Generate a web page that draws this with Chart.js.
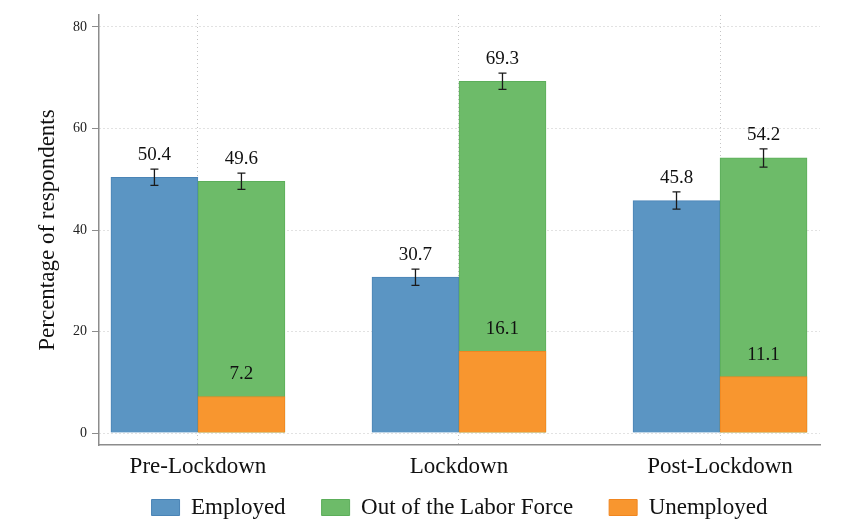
<!DOCTYPE html>
<html>
<head>
<meta charset="utf-8">
<script src="https://cdn.jsdelivr.net/npm/chart.js@4.4.1/dist/chart.umd.min.js"></script>
<style>
  html, body { margin: 0; padding: 0; background: #ffffff; }
  #wrap { width: 865px; height: 528px; }
</style>
</head>
<body>
<div id="wrap"><canvas id="chart" width="865" height="528"></canvas></div>
<script>
// Labour-force status of respondents across the three periods (%)
const periods = ['Pre-Lockdown', 'Lockdown', 'Post-Lockdown'];
const employed = [50.4, 30.7, 45.8];
const employedErr = [1.6, 1.6, 1.7];
const outOfLaborForce = [49.6, 69.3, 54.2];
const outOfLaborForceErr = [1.6, 1.6, 1.8];
const unemployed = [7.2, 16.1, 11.1];
const yTicks = [0, 20, 40, 60, 80];

const serif = '"Liberation Serif", "Times New Roman", serif';
const GROUP_SHIFT = 1 / 6;   // half of one bar's width in category units
const LEGEND_LIFT = 25;      // legend sits closer to the axis labels than the layout gives

function points(values, shift) {
  return values.map((v, i) => ({ x: i + shift, y: v }));
}

// Error bars (I-shaped) and value labels
const annotate = {
  id: 'annotate',
  afterLayout(chart) {
    if (chart.legend) {
      chart.legend.top -= LEGEND_LIFT;
    }
  },
  afterDatasetsDraw(chart) {
    const { ctx, scales: { x, y } } = chart;
    ctx.save();
    const groups = [
      { vals: employed, err: employedErr, shift: -GROUP_SHIFT },
      { vals: outOfLaborForce, err: outOfLaborForceErr, shift: GROUP_SHIFT }
    ];
    ctx.strokeStyle = '#1a1a1a';
    ctx.lineWidth = 1.3;
    ctx.fillStyle = '#111';
    ctx.font = '19px ' + serif;
    ctx.textAlign = 'center';
    ctx.textBaseline = 'middle';
    groups.forEach(g => {
      g.vals.forEach((v, i) => {
        const px = x.getPixelForValue(i + g.shift);
        const hi = y.getPixelForValue(v + g.err[i]);
        const lo = y.getPixelForValue(v - g.err[i]);
        ctx.beginPath();
        ctx.moveTo(px, hi); ctx.lineTo(px, lo);
        ctx.moveTo(px - 4, hi); ctx.lineTo(px + 4, hi);
        ctx.moveTo(px - 4, lo); ctx.lineTo(px + 4, lo);
        ctx.stroke();
        ctx.fillText(v.toFixed(1), px, hi - 14);
      });
    });
    unemployed.forEach((v, i) => {
      const px = x.getPixelForValue(i + GROUP_SHIFT);
      ctx.fillText(v.toFixed(1), px, y.getPixelForValue(v) - 22);
    });
    ctx.restore();
  }
};

new Chart(document.getElementById('chart'), {
  type: 'bar',
  data: {
    datasets: [
      {
        label: 'Employed',
        data: points(employed, -GROUP_SHIFT),
        backgroundColor: '#5b95c3',
        borderColor: '#4a84b6',
        borderWidth: 1,
        order: 3
      },
      {
        label: 'Out of the Labor Force',
        data: points(outOfLaborForce, GROUP_SHIFT),
        backgroundColor: '#6dbb69',
        borderColor: '#5cae5a',
        borderWidth: 1,
        order: 2
      },
      {
        label: 'Unemployed',
        data: points(unemployed, GROUP_SHIFT),
        backgroundColor: '#f8962f',
        borderColor: '#f08620',
        borderWidth: 1,
        order: 1
      }
    ]
  },
  options: {
    responsive: false,
    animation: false,
    devicePixelRatio: 1,
    grouped: false,
    barThickness: 87,
    layout: { padding: { top: 15, right: 45, bottom: 0, left: 0 } },
    scales: {
      x: {
        type: 'linear',
        offset: false,
        min: -0.379,
        max: 2.383,
        afterBuildTicks(scale) { scale.ticks = periods.map((_, i) => ({ value: i })); },
        afterFit(scale) { scale.height = 40; },
        ticks: {
          callback: v => periods[v],
          font: { family: serif, size: 23 },
          color: '#111',
          padding: 8,
          maxRotation: 0,
          autoSkip: false
        },
        grid: {
          color: '#c4c4c4',
          offset: false,
          drawTicks: false,
          lineWidth: 1
        },
        border: { display: true, color: '#8c8c8c', width: 1.5, dash: [1, 3] }
      },
      y: {
        min: -2.36,
        max: 82.36,
        afterBuildTicks(scale) { scale.ticks = yTicks.map(v => ({ value: v })); },
        afterFit(scale) { scale.width = 99; },
        ticks: {
          font: { family: serif, size: 14 },
          color: '#222',
          padding: 5
        },
        grid: {
          color: '#c4c4c4',
          drawTicks: true,
          tickLength: 7,
          tickColor: '#8c8c8c',
          tickBorderDash: [],
          lineWidth: 1
        },
        border: { display: true, color: '#8c8c8c', width: 1.5, dash: [1, 3] },
        title: {
          display: true,
          text: 'Percentage of respondents',
          font: { family: serif, size: 23 },
          color: '#111',
          padding: { top: 34, bottom: 0 }
        }
      }
    },
    plugins: {
      legend: {
        position: 'bottom',
        fullSize: false,
        maxHeight: 43,
        labels: {
          boxWidth: 28,
          boxHeight: 16,
          padding: 36,
          color: '#111',
          font: { family: serif, size: 23 },
          sort: (a, b) => a.datasetIndex - b.datasetIndex
        }
      },
      tooltip: { enabled: false }
    }
  },
  plugins: [annotate]
});
</script>
</body>
</html>
